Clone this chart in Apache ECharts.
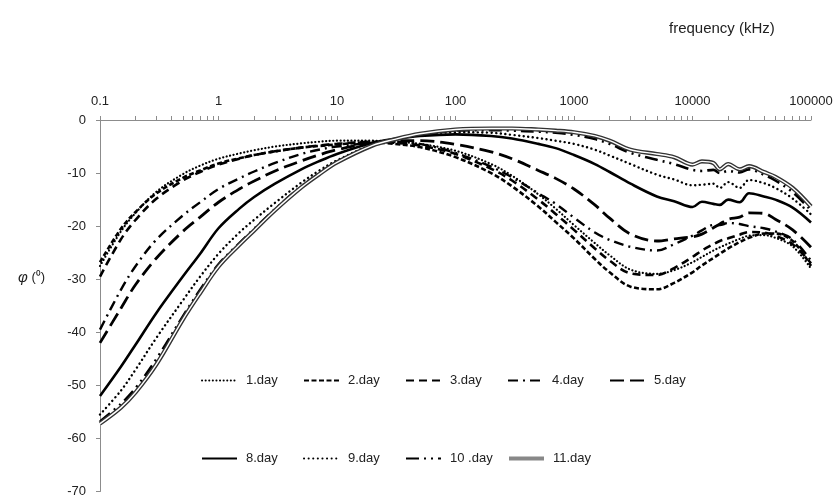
<!DOCTYPE html>
<html>
<head>
<meta charset="utf-8">
<script src="https://cdn.jsdelivr.net/npm/echarts@6/dist/echarts.min.js"></script>
<style>
html, body { margin: 0; padding: 0; background: #fff; }
#chart { width: 837px; height: 498px; }
</style>
</head>
<body>
<div id="chart"></div>
<script>
// frequency (kHz) sample points
var freq = [0.1, 0.15, 0.2, 0.3, 0.5, 0.7, 1, 1.5, 2, 3, 5, 7, 10, 20, 30, 50, 100, 200, 300, 500, 700,
	1000, 1500, 2000, 3000, 5000, 7000, 10000, 12000, 15000, 17000, 20000, 25000, 30000, 40000, 50000, 70000, 100000];

var day1 = [-27.5, -21, -17.5, -13.5, -10.2, -8.6, -7.3, -6.3, -5.7, -5.0, -4.4, -4.1, -3.9, -3.9, -4.1, -4.5, -5.8, -8.3, -10.5, -14, -16.7,
	-19.8, -23.2, -25.5, -28.2, -29, -28.3, -26.8, -25.8, -24.6, -24, -23.3, -22.4, -21.8, -21.7, -22.2, -23.8, -28];
var day2 = [-26.8, -20.5, -17.3, -13.8, -10.9, -9.5, -8.2, -7.2, -6.6, -5.9, -5.2, -4.9, -4.6, -4.2, -4.5, -5.1, -7, -10, -12.5, -16.3, -19.2,
	-22.3, -26.2, -28.7, -31.4, -31.9, -30.7, -28.7, -27.4, -26, -25.2, -24.2, -23, -22.2, -21.4, -21.4, -22.8, -27.5];
var day3 = [-29.5, -22.5, -18.8, -14.8, -11.4, -9.8, -8.4, -7.3, -6.6, -5.9, -5.2, -4.8, -4.5, -4.1, -4.3, -4.8, -6.4, -9.2, -11.4, -15, -17.7,
	-20.7, -24.2, -26.5, -28.9, -29.2, -27.9, -25.8, -24.6, -23.4, -22.8, -22.3, -21.6, -21.1, -21.2, -21.8, -23.4, -27];
var day4 = [-39.5, -32, -27.5, -22.5, -18, -15.5, -13, -11, -9.7, -8.1, -6.4, -5.6, -5.0, -4.3, -4.1, -4.5, -6.2, -8.8, -10.8, -13.8, -15.8,
	-18.4, -21.2, -22.6, -23.9, -24.6, -23.4, -21.8, -20.8, -19.8, -19.8, -19.4, -19.6, -20, -20.4, -21, -22.5, -26.5];
var day5 = [-42, -35.5, -31, -26, -21, -18.3, -15.5, -13, -11.5, -9.6, -7.7, -6.6, -5.6, -4.3, -3.9, -3.9, -4.6, -6, -7.3, -9.5, -11,
	-13, -16, -18.5, -21.5, -22.8, -22.4, -22, -21.5, -20.3, -19.6, -18.7, -18.3, -17.5, -17.6, -18.7, -20.7, -24];
var day8 = [-52, -46.5, -42.3, -36.3, -29.5, -25.2, -20.4, -16.7, -14.5, -12, -9.3, -7.8, -6.4, -4.3, -3.6, -3.0, -2.7, -3.0, -3.5, -4.5, -5.3,
	-6.6, -8.3, -9.8, -12, -14.4, -15.3, -16.4, -15.4, -15.8, -16, -15, -15.5, -13.8, -14.4, -15, -16.5, -19.3];
var day9 = [-55.5, -51, -47, -41, -34, -29.5, -25.2, -21.2, -18.8, -15.6, -11.8, -9.6, -7.6, -4.6, -3.6, -2.8, -2.3, -2.4, -2.8, -3.4, -3.9,
	-4.5, -5.6, -6.7, -8.3, -10.3, -11.2, -12.3, -12.2, -12, -12.8, -11.7, -12.8, -11.3, -11.9, -12.8, -14.8, -17.8];
var day10 = [-56.8, -53.5, -50.5, -45, -37, -32, -27.2, -23.2, -20.5, -16.8, -12.5, -10.2, -7.9, -4.8, -3.7, -2.8, -2.0, -1.9, -2.0, -2.2, -2.4,
	-2.8, -3.6, -4.5, -6.2, -7.5, -8.3, -9.4, -9.6, -9.4, -10, -9.6, -9.9, -9.3, -10.3, -11.4, -13.6, -17];
var day11 = [-57.2, -54.2, -51.3, -46, -37.6, -32.6, -27.6, -23.5, -20.8, -17, -12.7, -10.3, -8, -4.8, -3.7, -2.6, -1.8, -1.6, -1.6, -1.8, -2.0,
	-2.3, -3.0, -3.9, -5.6, -6.4, -7.0, -8.4, -7.8, -8.1, -9.3, -8.3, -9.3, -8.7, -9.8, -10.7, -12.8, -16.3];

var xLabels = [0.1, 1, 10, 100, 1000, 10000, 100000];

var fontName = 'Liberation Sans, Arial, sans-serif';

function pairs(arr) {
	var out = [];
	for (var i = 0; i < freq.length; i++) {
		out.push([freq[i], arr[i]]);
	}
	return out;
}

// minor tick positions of the log axis, in decades
var minorTicks = [];
for (var d = -1; d < 5; d++) {
	for (var k = 1; k < 10; k++) {
		minorTicks.push(d + Math.log10(k));
	}
}
minorTicks.push(5);

var lineDefs = [
	{ name: '1.day', data: day1, style: { type: [0.1, 3.5], width: 2.2, cap: 'round' } },
	{ name: '2.day', data: day2, style: { type: [5, 2.5], width: 2.6 } },
	{ name: '3.day', data: day3, style: { type: [8, 5], width: 2.6 } },
	{ name: '4.day', data: day4, style: { type: [10, 5, 2, 5], width: 2.4 } },
	{ name: '5.day', data: day5, style: { type: [14, 6], width: 2.8 } },
	{ name: '8.day', data: day8, style: { type: 'solid', width: 2.6 } },
	{ name: '9.day', data: day9, style: { type: [0.1, 4.5], width: 2.4, cap: 'round' } },
	{ name: '10 .day', data: day10, style: { type: [13, 5, 2, 5, 2, 5], width: 2.6 } },
	{ name: '11.day', data: day11, style: { type: 'solid', width: 4.2, color: '#333' } }
];

var series = [];
lineDefs.forEach(function(def) {
	var st = def.style;
	series.push({
		name: def.name,
		type: 'line',
		data: pairs(def.data),
		smooth: 0.35,
		symbol: 'none',
		color: '#000',
		lineStyle: {
			color: st.color || '#000',
			width: st.width,
			type: st.type,
			cap: st.cap || 'butt'
		},
		z: def.name == '11.day' ? 3 : 2
	});
});
// inner white stroke of the double line
series.push({
	name: '11.day inner',
	type: 'line',
	data: pairs(day11),
	smooth: 0.35,
	symbol: 'none',
	lineStyle: { color: '#fff', width: 1.4 },
	z: 4,
	silent: true
});

var row1 = ['1.day', '2.day', '3.day', '4.day', '5.day'];
var row2 = ['8.day', '9.day', '10 .day', '11.day'];

function makeLegend(name, left, top) {
	var item = { name: name };
	if (name == '11.day') {
		item.lineStyle = { color: '#888', width: 4, type: 'solid' };
	}
	return {
		data: [item],
		left: left,
		top: top,
		orient: 'horizontal',
		itemWidth: 35,
		itemHeight: 14,
		selectedMode: false,
		itemStyle: { opacity: 0 },
		textStyle: { fontSize: 13, color: '#222', fontFamily: fontName, padding: [0, 0, 0, 4] }
	};
}

var legends = [];
row1.forEach(function(n, i) {
	legends.push(makeLegend(n, 196 + i * 102, 369));
});
row2.forEach(function(n, i) {
	legends.push(makeLegend(n, 196 + i * 102, 447));
});

var chart = echarts.init(document.getElementById('chart'));
chart.setOption({
	animation: false,
	backgroundColor: '#fff',
	title: [{
		text: 'frequency (kHz)',
		left: 664,
		top: 16,
		textStyle: { fontSize: 15, fontWeight: 'normal', color: '#222', fontFamily: fontName }
	}, {
		text: '{i|φ} (⁰)',
		left: 13,
		top: 265,
		textStyle: {
			fontSize: 13, fontWeight: 'normal', color: '#222', fontFamily: fontName,
			rich: { i: { fontSize: 15, fontStyle: 'italic', color: '#222', fontFamily: fontName } }
		}
	}],
	legend: legends,
	grid: { left: 100, top: 120, width: 711, height: 373, containLabel: false },
	xAxis: [{
		type: 'log',
		logBase: 10,
		min: 0.1,
		max: 100000,
		position: 'top',
		axisLine: { show: true, onZero: false, lineStyle: { color: '#8c8c8c', width: 1 } },
		axisTick: { show: false },
		splitLine: { show: false },
		axisLabel: {
			margin: 12,
			fontSize: 13,
			color: '#222',
			fontFamily: fontName,
			showMinLabel: true,
			showMaxLabel: true,
			formatter: function(v) {
				for (var i = 0; i < xLabels.length; i++) {
					if (Math.abs(Math.log10(v) - Math.log10(xLabels[i])) < 1e-6) return String(xLabels[i]);
				}
				return '';
			}
		}
	}, {
		type: 'value',
		min: -1,
		max: 5,
		position: 'top',
		axisLine: { show: false, onZero: false },
		axisLabel: { show: false },
		splitLine: { show: false },
		axisTick: { show: true, length: 4, customValues: minorTicks, lineStyle: { color: '#8c8c8c' } }
	}],
	yAxis: {
		type: 'value',
		min: -70,
		max: 0,
		interval: 10,
		axisLine: { show: true, onZero: false, lineStyle: { color: '#8c8c8c', width: 1 } },
		axisTick: { show: true, length: 4, lineStyle: { color: '#8c8c8c' } },
		splitLine: { show: false },
		axisLabel: { margin: 14, fontSize: 13, color: '#222', fontFamily: fontName }
	},
	series: series
});
</script>
</body>
</html>
